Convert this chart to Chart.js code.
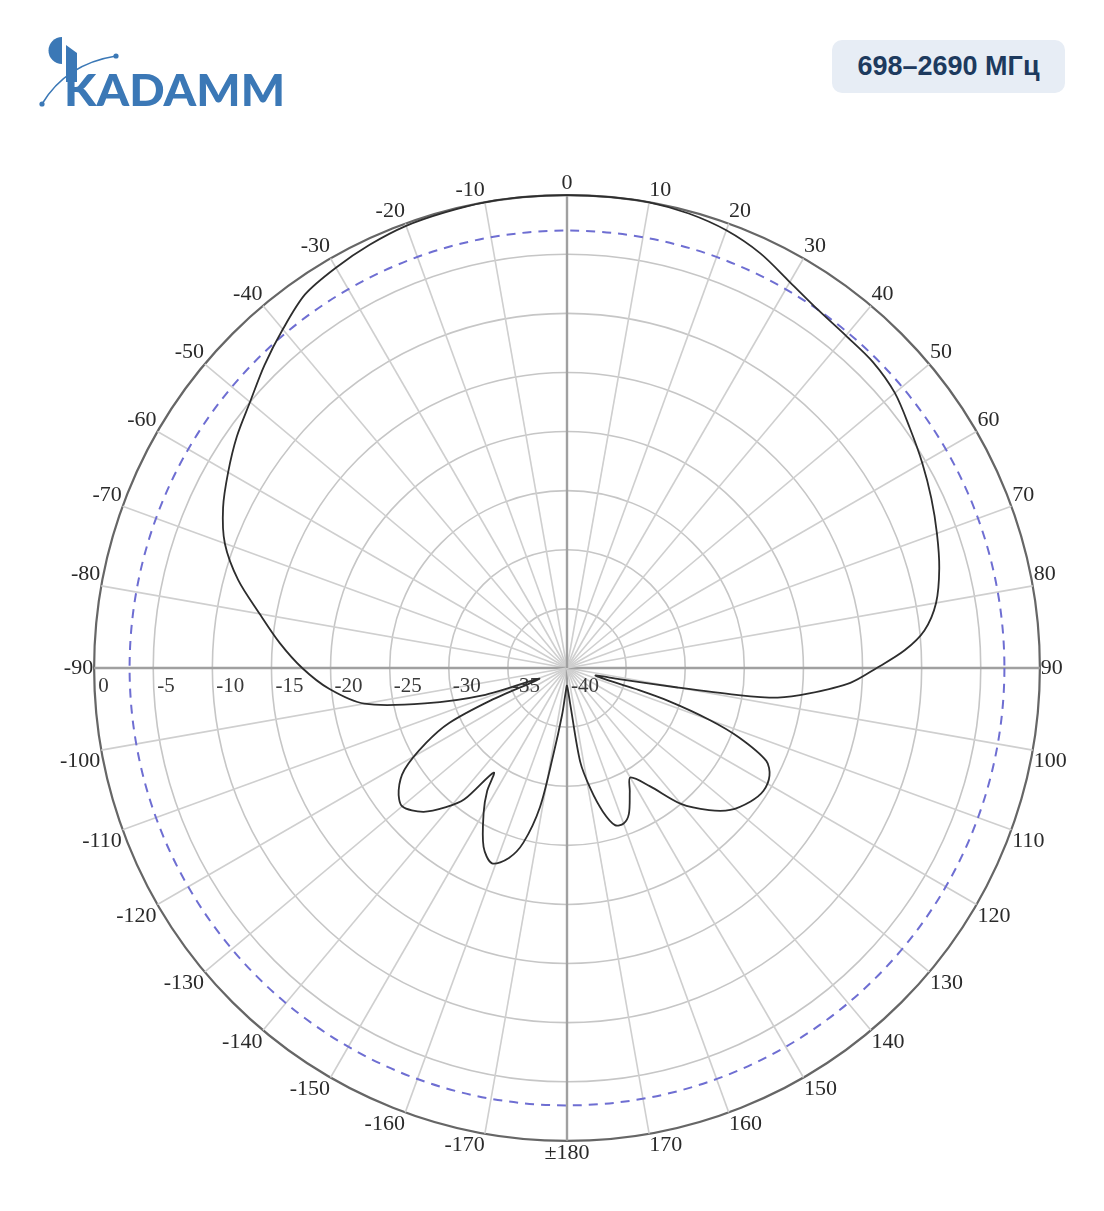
<!DOCTYPE html>
<html>
<head>
<meta charset="utf-8">
<script src="https://cdn.jsdelivr.net/npm/chart.js@4.4.1/dist/chart.umd.min.js"></script>
<style>
html,body{margin:0;padding:0;background:#fff;}
#page{position:relative;width:1104px;height:1211px;overflow:hidden;background:#fff;}
#chartBox{position:absolute;left:0;top:0;width:1104px;height:1211px;}
#logo{position:absolute;left:0;top:0;}
#badge{position:absolute;left:832px;top:40px;width:233px;height:53px;border-radius:10px;background:#e7edf5;color:#1d3a5e;font:bold 27px "Liberation Sans",Arial,sans-serif;display:flex;align-items:center;justify-content:center;}
</style>
</head>
<body>
<div id="page">
  <div id="chartBox"><canvas id="c" width="1104" height="1211"></canvas></div>
  <svg id="logo" width="300" height="125" viewBox="0 0 300 125">
    <path d="M62 37 A13.5 13.5 0 0 0 62 64 Z" fill="#3b78b6"/>
    <path d="M42 104 Q66 64 116 56" stroke="#3b78b6" stroke-width="1.6" fill="none"/>
    <circle cx="42" cy="104" r="2.6" fill="#3b78b6"/>
    <circle cx="116" cy="56" r="2.6" fill="#3b78b6"/>
    <path d="M66 45 L77 53 L77 82 L66 82 Z" fill="#3b78b6"/>
    <text x="64" y="106" font-family="Lato" font-weight="900" font-size="44" fill="#3b78b6" textLength="221" lengthAdjust="spacingAndGlyphs">KADAMM</text>
  </svg>
  <div id="badge">698–2690 МГц</div>
</div>
<script>
// ---- data read from the reference pattern ----
// angle in degrees (clockwise from top, -180..180) and level in dB
const sampleAngles = [
  0, 5, 10, 15, 20, 25, 30, 35, 40, 45, 50, 55, 60, 65, 70, 75, 80, 84, 87, 90,
  93, 96, 98, 99, 100, 102, 105, 107, 108, 110, 112, 115, 118, 122, 126, 131, 135, 140, 145, 150,
  153, 157, 160, 163, 166, 169, 172, 175, 180,
  -177, -174, -171, -169, -166, -163, -159, -155, -150, -147, -145, -142, -139, -135, -130, -126,
  -122, -118, -115, -113, -111, -108, -104, -100, -95, -90, -85, -80, -75, -70, -65, -60,
  -55, -50, -45, -40, -35, -30, -25, -20, -15, -10, -5
];
const sampleGains = [
  0, 0, 0, -0.2, -0.6, -1.3, -2.3, -3.0, -3.3, -3.4, -3.8, -4.6, -5.3, -6.0, -6.7, -7.4, -8.3, -9.6, -11.4, -13.8,
  -16.0, -19.4, -22.0, -25.5, -30.5, -35.5, -37.5, -34.0, -31.0, -27.2, -24.3, -21.4, -20.6, -20.4, -20.8, -21.7, -23.0, -25.0, -27.8, -29.3,
  -28.3, -26.6, -26.0, -26.1, -27.5, -29.6, -32.0, -37.0, -38.5,
  -38.0, -36.0, -32.5, -28.0, -24.8, -23.2, -22.3, -23.3, -25.9, -27.6, -29.2, -25.9, -24.4, -22.8, -21.8, -22.4,
  -23.8, -26.5, -29.0, -33.0, -37.5, -32.5, -27.6, -22.6, -19.8, -17.6, -15.6, -13.6, -11.2, -9.2, -7.9, -6.9,
  -5.9, -5.0, -3.8, -2.6, -1.4, -0.9, -0.5, -0.2, -0.1, 0, 0
];
const tickValues = [0, -5, -10, -15, -20, -25, -30, -35, -40];
const angleLabelStep = 10;
const halfPowerLevel = -3;

// categories: one per degree, clockwise from the top
const categories = Array.from({length: 360}, (_, i) => i);
const seriesValues = categories.map(() => null);
sampleAngles.forEach((a, k) => { seriesValues[(a + 360) % 360] = sampleGains[k]; });

function angleText(deg) {
  if (deg % angleLabelStep !== 0) return '';
  if (deg === 180) return '±180';
  return String(deg > 180 ? deg - 360 : deg);
}

const ringPlugin = {
  id: 'ringPlugin',
  beforeDatasetsDraw(chart) {
    const s = chart.scales.r;
    const ctx = chart.ctx;
    ctx.save();
    ctx.strokeStyle = '#6e6ed2';
    ctx.lineWidth = 2;
    ctx.setLineDash([9, 7]);
    ctx.beginPath();
    ctx.arc(s.xCenter, s.yCenter, s.getDistanceFromCenterForValue(halfPowerLevel), 0, Math.PI * 2);
    ctx.stroke();
    ctx.restore();

    ctx.save();
    ctx.font = '21px "Liberation Serif", serif';
    ctx.fillStyle = '#3a3a3a';
    ctx.textAlign = 'left';
    ctx.textBaseline = 'top';
    tickValues.forEach(v => {
      const d = s.getDistanceFromCenterForValue(v);
      ctx.fillText(String(v), s.xCenter - d + 4, s.yCenter + 8);
    });
    ctx.restore();
  }
};

new Chart(document.getElementById('c'), {
  type: 'radar',
  data: {
    labels: categories,
    datasets: [{
      data: seriesValues,
      borderColor: '#2d2d2d',
      borderWidth: 1.8,
      fill: false,
      pointRadius: 0,
      pointHoverRadius: 0,
      tension: 0.3,
      spanGaps: true
    }]
  },
  options: {
    responsive: false,
    animation: false,
    events: [],
    layout: { padding: { left: 57, right: 33, top: 161, bottom: 36 } },
    plugins: { legend: { display: false }, tooltip: { enabled: false } },
    scales: {
      r: {
        min: -40,
        max: 0,
        ticks: { stepSize: 5, display: false },
        grid: {
          circular: true,
          color: c => (c.tick && c.tick.value === 0) ? '#666' : '#c6c6c6',
          lineWidth: c => (c.tick && c.tick.value === 0) ? 2.2 : 1.6
        },
        angleLines: {
          color: c => c.index % 90 === 0 ? '#a0a0a0' : (c.index % angleLabelStep === 0 ? '#cfcfcf' : 'transparent'),
          lineWidth: c => c.index % angleLabelStep === 0 ? (c.index % 90 === 0 ? 2.4 : 1.6) : 0
        },
        pointLabels: {
          display: true,
          padding: 1,
          color: '#2a2a2a',
          font: { family: 'Liberation Serif', size: 22, lineHeight: 1.0 },
          callback: (label, i) => angleText(i)
        }
      }
    }
  },
  plugins: [ringPlugin]
});
</script>
</body>
</html>
